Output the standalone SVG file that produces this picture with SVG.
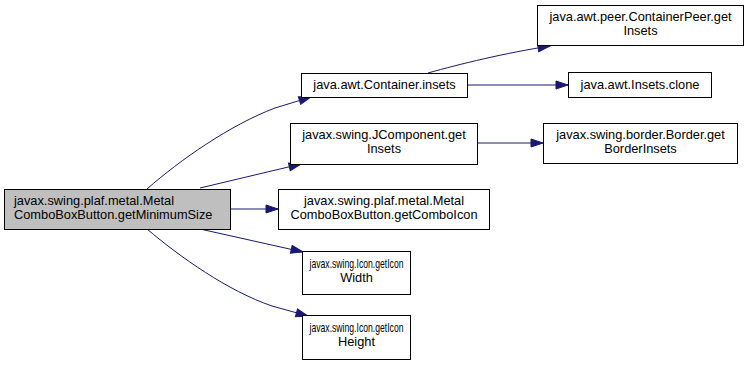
<svg xmlns="http://www.w3.org/2000/svg" width="748" height="365" viewBox="0 0 748 365">
  <style>
    .node rect { fill: #ffffff; stroke: #000000; stroke-width: 1; }
    .node.root rect { fill: #bfbfbf; }
    .node text { font-family: "Liberation Sans", Arial, sans-serif; font-size: 12.8px; fill: #000000; }
    .c { text-anchor: middle; }
    .edge { fill: none; stroke: #191970; stroke-width: 1; marker-end: url(#arrow); }
  </style>
  <defs>
    <marker id="arrow" markerUnits="userSpaceOnUse" viewBox="0 0 14 10" refX="13" refY="5" markerWidth="14" markerHeight="10" orient="auto">
      <path d="M1,1 L13,5 L1,9 Z" fill="#191970" stroke="#191970" stroke-width="1"/>
    </marker>
  </defs>
  <rect width="748" height="365" fill="#ffffff"/>

  <g id="connectors">
    <path class="edge" d="M147,189 C180,160 230,125 275,108 L311,97"/>
    <path class="edge" d="M200,188 L301,164"/>
    <path class="edge" d="M230,209 L278,209"/>
    <path class="edge" d="M200,229 L303,252"/>
    <path class="edge" d="M147,229 C180,257 228,291 272,306 L308,316"/>
    <path class="edge" d="M428,73 C460,64 505,53 550,46"/>
    <path class="edge" d="M467,85 L568,85"/>
    <path class="edge" d="M477,143 L543,143"/>
  </g>

  <g id="node-getMinimumSize" class="node root">
    <rect x="4.5" y="189.5" width="226" height="40"/>
    <text x="14" y="205">javax.swing.plaf.metal.Metal</text>
    <text x="14" y="219">ComboBoxButton.getMinimumSize</text>
  </g>

  <g id="node-Container-insets" class="node">
    <rect x="301.5" y="73.5" width="166" height="24"/>
    <text class="c" x="384.5" y="89">java.awt.Container.insets</text>
  </g>

  <g id="node-JComponent-getInsets" class="node">
    <rect x="290.5" y="123.5" width="187" height="41"/>
    <text class="c" x="384" y="139">javax.swing.JComponent.get</text>
    <text class="c" x="384" y="153">Insets</text>
  </g>

  <g id="node-getComboIcon" class="node">
    <rect x="278.5" y="189.5" width="211" height="40"/>
    <text class="c" x="384" y="205">javax.swing.plaf.metal.Metal</text>
    <text class="c" x="384" y="219">ComboBoxButton.getComboIcon</text>
  </g>

  <g id="node-Icon-getIconWidth" class="node">
    <rect x="302.5" y="251.5" width="108" height="43"/>
    <text class="c" x="356.5" y="268" textLength="94" lengthAdjust="spacingAndGlyphs">javax.swing.Icon.getIcon</text>
    <text class="c" x="356.5" y="282">Width</text>
  </g>

  <g id="node-Icon-getIconHeight" class="node">
    <rect x="302.5" y="315.5" width="108" height="44"/>
    <text class="c" x="356.5" y="332" textLength="94" lengthAdjust="spacingAndGlyphs">javax.swing.Icon.getIcon</text>
    <text class="c" x="356.5" y="346">Height</text>
  </g>

  <g id="node-ContainerPeer-getInsets" class="node">
    <rect x="537.5" y="5.5" width="206" height="40"/>
    <text class="c" x="640.5" y="21">java.awt.peer.ContainerPeer.get</text>
    <text class="c" x="640.5" y="35">Insets</text>
  </g>

  <g id="node-Insets-clone" class="node">
    <rect x="568.5" y="72.5" width="143" height="25"/>
    <text class="c" x="640" y="89">java.awt.Insets.clone</text>
  </g>

  <g id="node-Border-getBorderInsets" class="node">
    <rect x="543.5" y="123.5" width="194" height="40"/>
    <text class="c" x="640.5" y="139">javax.swing.border.Border.get</text>
    <text class="c" x="640.5" y="153">BorderInsets</text>
  </g>
</svg>
